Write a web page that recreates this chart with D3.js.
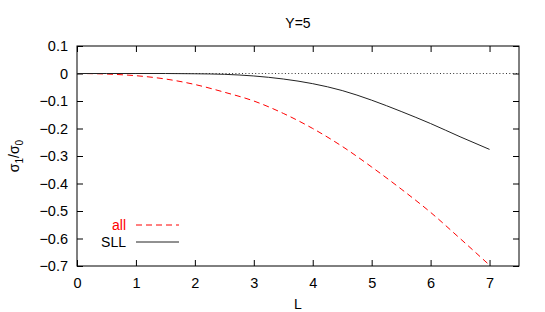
<!DOCTYPE html>
<html>
<head>
<meta charset="utf-8">
<script src="https://cdn.jsdelivr.net/npm/d3@7"></script>
<style>
  body { margin: 0; background: #fff; }
  text { font-family: "Liberation Sans", Arial, sans-serif; font-size: 14px; }
</style>
</head>
<body>
<div id="chart"></div>
<script>
// data
const L = [0, 0.5, 1, 1.5, 2, 2.5, 3, 3.5, 4, 4.5, 5, 5.5, 6, 6.5, 7];
const allVals = [0, -0.002, -0.008, -0.02, -0.04, -0.068, -0.1, -0.145, -0.2, -0.265, -0.34, -0.42, -0.505, -0.6, -0.697];
const sllVals = [0, 0, 0, 0, -0.001, -0.003, -0.009, -0.02, -0.037, -0.062, -0.097, -0.138, -0.182, -0.23, -0.276];
const xTicks = [0, 1, 2, 3, 4, 5, 6, 7];
const yTicks = [0.1, 0, -0.1, -0.2, -0.3, -0.4, -0.5, -0.6, -0.7];

const width = 545, height = 312;
const margin = {top: 46, right: 26, bottom: 46, left: 77};

const svg = d3.create("svg")
    .attr("width", width)
    .attr("height", height);

const x = d3.scaleLinear().domain([0, 7.5]).range([margin.left, width - margin.right]);
const y = d3.scaleLinear().domain([-0.7, 0.1]).range([height - margin.bottom, margin.top]);

const tickLen = 6;

// zero line
svg.append("line")
    .attr("x1", x(0)).attr("x2", x(7.5))
    .attr("y1", y(0)).attr("y2", y(0))
    .attr("stroke", "#333")
    .attr("stroke-dasharray", "1,2.3");

// axes with inward ticks, mirrored
const fmt = d => d === 0 ? "0" : d3.format(".1f")(d);

svg.append("g")
    .attr("transform", `translate(0,${y(-0.7)})`)
    .call(d3.axisBottom(x).tickValues(xTicks).tickSize(-tickLen).tickPadding(12).tickFormat(d3.format("d")))
    .call(g => g.select(".domain").remove());

svg.append("g")
    .attr("transform", `translate(0,${y(0.1)})`)
    .call(d3.axisTop(x).tickValues(xTicks).tickSize(-tickLen).tickFormat(""))
    .call(g => g.select(".domain").remove());

svg.append("g")
    .attr("transform", `translate(${x(0)},0)`)
    .call(d3.axisLeft(y).tickValues(yTicks).tickSize(-tickLen).tickPadding(9).tickFormat(fmt))
    .call(g => g.select(".domain").remove());

svg.append("g")
    .attr("transform", `translate(${x(7.5)},0)`)
    .call(d3.axisRight(y).tickValues(yTicks).tickSize(-tickLen).tickFormat(""))
    .call(g => g.select(".domain").remove());

svg.selectAll(".tick text")
    .attr("fill", "#000")
    .style("font-size", "14.5px")
    .style("font-family", "Liberation Sans, Arial, sans-serif");

// frame
svg.append("rect")
    .attr("x", x(0)).attr("y", y(0.1))
    .attr("width", x(7.5) - x(0))
    .attr("height", y(-0.7) - y(0.1))
    .attr("fill", "none")
    .attr("stroke", "#000");

// curves
const line = d3.line()
    .x((d, i) => x(L[i]))
    .y(d => y(d))
    .curve(d3.curveMonotoneX);

svg.append("path")
    .datum(allVals)
    .attr("d", line)
    .attr("fill", "none")
    .attr("stroke", "#ff0000")
    .attr("stroke-dasharray", "6,4");

svg.append("path")
    .datum(sllVals)
    .attr("d", line)
    .attr("fill", "none")
    .attr("stroke", "#222");

// legend
const legend = [
    {name: "all", color: "#ff0000", dash: "6,4", y: 225},
    {name: "SLL", color: "#000", dash: null, y: 242}
];
legend.forEach(d => {
    svg.append("text")
        .attr("x", 126).attr("y", d.y)
        .attr("dy", "0.35em")
        .attr("text-anchor", "end")
        .attr("fill", d.color)
        .text(d.name);
    svg.append("line")
        .attr("x1", 136).attr("x2", 179)
        .attr("y1", d.y).attr("y2", d.y)
        .attr("stroke", d.color === "#000" ? "#222" : d.color)
        .attr("stroke-dasharray", d.dash);
});

// title and axis labels
svg.append("text")
    .attr("x", (x(0) + x(7.5)) / 2).attr("y", 23)
    .attr("dy", "0.35em")
    .attr("text-anchor", "middle")
    .text("Y=5");

svg.append("text")
    .attr("x", (x(0) + x(7.5)) / 2).attr("y", 304)
    .attr("dy", "0.35em")
    .attr("text-anchor", "middle")
    .text("L");

const yl = svg.append("text")
    .attr("transform", `translate(19,${(y(0.1) + y(-0.7)) / 2}) rotate(-90)`)
    .attr("text-anchor", "middle");
yl.append("tspan").text("σ");
yl.append("tspan").attr("dy", 4).style("font-size", "10px").text("1");
yl.append("tspan").attr("dy", -4).text("/σ");
yl.append("tspan").attr("dy", 4).style("font-size", "10px").text("0");

document.getElementById("chart").appendChild(svg.node());
</script>
</body>
</html>
